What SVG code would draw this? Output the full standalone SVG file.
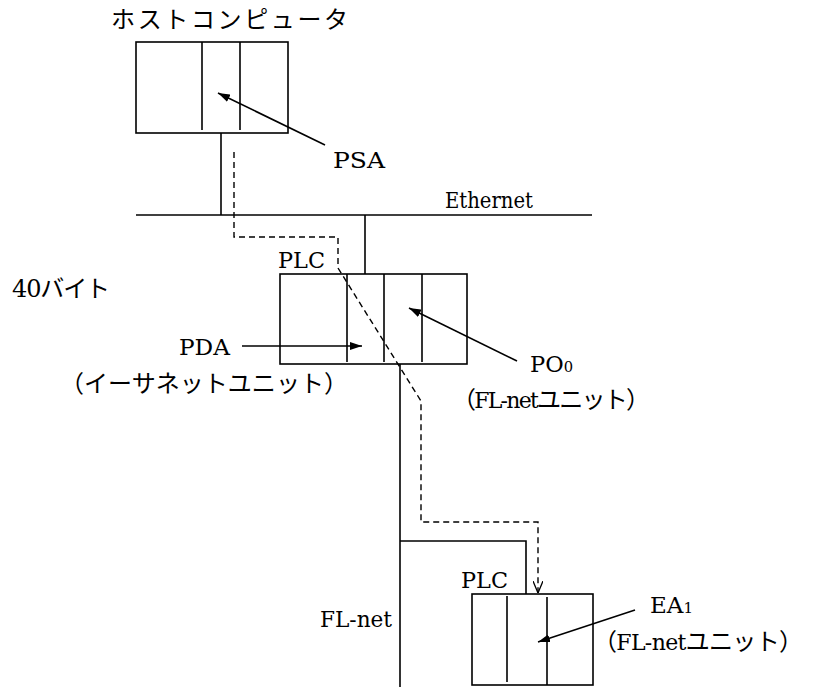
<svg xmlns="http://www.w3.org/2000/svg" width="813" height="687" viewBox="0 0 813 687">
<style>
.ln{fill:none;stroke:#000;stroke-width:1.6}
.dash{fill:none;stroke:#000;stroke-width:1.4;stroke-dasharray:6,4}
text{fill:#000}
.lat{font-family:"DejaVu Serif","Liberation Serif",serif;font-size:23px}
.jp{font-family:"Noto Sans CJK JP","DejaVu Serif",sans-serif;font-size:24px}
.ls{font-family:"DejaVu Serif","Liberation Serif",serif}
.sub{font-size:15px}
</style>
<defs>
<marker id="ah" viewBox="0 0 12 8" refX="12" refY="4" markerWidth="12" markerHeight="8" markerUnits="userSpaceOnUse" orient="auto">
<path d="M0,0 L12,4 L0,8 Z" fill="#000"/>
</marker>
<marker id="oh" viewBox="0 0 10 12" refX="5" refY="12" markerWidth="10" markerHeight="12" markerUnits="userSpaceOnUse" orient="0">
<path d="M0,0 L5,12 L10,0" fill="none" stroke="#000" stroke-width="1.3"/>
</marker>
</defs>
<rect width="813" height="687" fill="#fff"/>
<g id="connectors">
<line class="ln" x1="136" y1="215" x2="592" y2="215"/>
<line class="ln" x1="221" y1="133" x2="221" y2="215"/>
<line class="ln" x1="365" y1="215" x2="365" y2="274"/>
<line class="ln" x1="400" y1="364" x2="400" y2="687"/>
<polyline class="ln" points="400,541 526,541 526,594"/>
<path class="dash" d="M234,152 V237 H338 V268 L421,401 V522 H538 V593" marker-end="url(#oh)"/>
<line class="ln" x1="325" y1="145" x2="218" y2="93" marker-end="url(#ah)"/>
<line class="ln" x1="242" y1="346" x2="362" y2="346" marker-end="url(#ah)"/>
<line class="ln" x1="517" y1="361" x2="409" y2="308" marker-end="url(#ah)"/>
<line class="ln" x1="635" y1="610" x2="538" y2="642" marker-end="url(#ah)"/>
</g>
<g id="host">
<rect class="ln" x="136" y="42" width="152" height="91"/>
<line class="ln" x1="202" y1="42" x2="202" y2="130"/>
<line class="ln" x1="240" y1="42" x2="240" y2="130"/>
<text class="jp" x="111" y="28" textLength="237" lengthAdjust="spacing">ホストコンピュータ</text>
</g>
<g id="psa"><text class="lat" x="333" y="168" textLength="52" lengthAdjust="spacingAndGlyphs">PSA</text></g>
<g id="ethernet"><text class="lat" x="445" y="208" textLength="88" lengthAdjust="spacingAndGlyphs">Ethernet</text></g>
<g id="bytes"><text class="jp" x="12" y="297" textLength="98" lengthAdjust="spacing"><tspan class="ls">40</tspan>バイト</text></g>
<g id="plc1">
<rect class="ln" x="280" y="274" width="187" height="90"/>
<line class="ln" x1="347" y1="274" x2="347" y2="362"/>
<line class="ln" x1="384" y1="274" x2="384" y2="362"/>
<line class="ln" x1="422" y1="274" x2="422" y2="362"/>
<text class="lat" x="278" y="268" textLength="47" lengthAdjust="spacingAndGlyphs">PLC</text>
</g>
<g id="pda">
<text class="lat" x="179" y="355" textLength="51" lengthAdjust="spacingAndGlyphs">PDA</text>
<text class="jp" x="60" y="392" textLength="288" lengthAdjust="spacing">（イーサネットユニット）</text>
</g>
<g id="po0">
<text class="lat" x="530" y="372" textLength="43" lengthAdjust="spacingAndGlyphs">PO<tspan class="sub">0</tspan></text>
<text class="jp" x="452" y="408" textLength="198" lengthAdjust="spacing">（<tspan class="ls" font-size="22">FL-net</tspan>ユニット）</text>
</g>
<g id="flnet"><text class="lat" x="320" y="627" textLength="72" lengthAdjust="spacingAndGlyphs">FL-net</text></g>
<g id="plc2">
<rect class="ln" x="472" y="594" width="121" height="91"/>
<line class="ln" x1="507" y1="596" x2="507" y2="682"/>
<line class="ln" x1="547" y1="597" x2="547" y2="685"/>
<text class="lat" x="461" y="588" textLength="47" lengthAdjust="spacingAndGlyphs">PLC</text>
</g>
<g id="ea1">
<text class="lat" x="650" y="613" textLength="43" lengthAdjust="spacingAndGlyphs">EA<tspan class="sub">1</tspan></text>
<text class="jp" x="593" y="650" textLength="210" lengthAdjust="spacing">（<tspan class="ls" font-size="22">FL-net</tspan>ユニット）</text>
</g>
</svg>
